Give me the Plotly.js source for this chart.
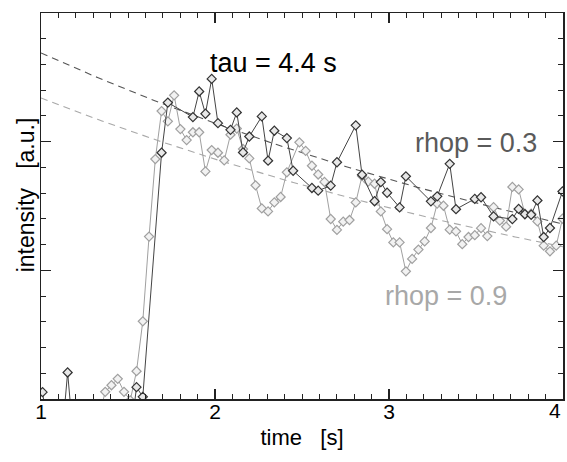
<!DOCTYPE html>
<html><head><meta charset="utf-8">
<script src="https://cdn.plot.ly/plotly-3.0.1.min.js"></script>
<style>html,body{margin:0;padding:0;background:#fff;}#chart{width:567px;height:462px;}</style>
</head><body><div id="chart"></div>
<script>
// rhop = 0.3 (dark): sample times [s] and intensity [a.u.]
const time03 = [1.009,1.045,1.117,1.153,1.189,1.513,1.549,1.585,1.693,1.729,
1.873,1.909,1.945,1.981,2.017,2.089,2.125,2.161,2.197,2.269,
2.305,2.341,2.413,2.449,2.557,2.593,2.665,2.701,2.809,2.845,
2.917,2.953,2.989,3.061,3.097,3.241,3.277,3.349,3.385,3.493,
3.529,3.601,3.709,3.745,3.781,3.817,3.853,3.889,3.925,3.997];
const rhop03 = [0.053,-0.3,-0.35,0.206,-0.35,-0.3,0.092,0.017,1.914,2.304,
2.191,2.390,2.217,2.488,2.144,2.092,2.227,1.916,2.040,2.196,
1.852,2.085,2.028,1.774,1.640,1.619,1.658,1.840,2.127,1.743,
1.537,1.686,1.603,1.489,1.731,1.536,1.575,1.828,1.475,1.555,
1.568,1.419,1.398,1.477,1.436,1.432,1.543,1.259,1.329,1.613];

// rhop = 0.9 (light): sample times [s] and intensity [a.u.]
const time09 = [1.333,1.369,1.405,1.441,1.477,1.513,1.549,1.585,1.621,1.657,
1.693,1.729,1.765,1.801,1.837,1.873,1.909,1.945,1.981,2.017,
2.053,2.089,2.125,2.161,2.197,2.233,2.269,2.305,2.341,2.377,
2.413,2.485,2.521,2.557,2.593,2.629,2.665,2.701,2.737,2.773,
2.809,2.845,2.881,2.917,2.953,2.989,3.025,3.061,3.097,3.133,
3.169,3.205,3.241,3.277,3.313,3.349,3.385,3.421,3.457,3.493,
3.529,3.565,3.601,3.637,3.673,3.709,3.745,3.781,3.817,3.853,
3.889,3.925,3.961,3.997];
const rhop09 = [-0.14,0.056,0.107,0.157,0.056,-0.01,0.216,0.604,1.262,1.865,
2.238,2.158,2.360,2.098,2.012,2.073,2.073,1.769,1.935,1.914,
1.854,2.054,2.102,1.943,1.870,1.661,1.481,1.458,1.528,1.570,
1.762,1.995,1.928,1.813,1.745,1.687,1.399,1.314,1.378,1.391,
1.528,1.733,1.689,1.673,1.458,1.320,1.217,1.217,0.992,1.089,
1.161,1.225,1.329,1.518,1.502,1.316,1.303,1.203,1.259,1.273,
1.328,1.266,1.491,1.387,1.339,1.648,1.629,1.440,1.440,1.380,
1.192,1.148,1.192,1.401];

// exponential fit parameters: I = A * exp(-(t - 1)/tau)
const tau = 4.4;
const fitAmp03 = 2.69;
const fitAmp09 = 2.34;
const xTickVals = [1, 2, 3, 4];
const xTickText = ['1', '2', '3', '4'];

const fitT = [];
for (let i = 0; i <= 120; i++) fitT.push(1 + 3 * i / 120);
const fit03 = fitT.map(t => fitAmp03 * Math.exp(-(t - 1) / tau));
const fit09 = fitT.map(t => fitAmp09 * Math.exp(-(t - 1) / tau));

const FONT = 'Liberation Sans, Arial, Helvetica, sans-serif';

const traces = [
  {x: fitT, y: fit09, mode: 'lines', line: {color: '#a8a8a8', width: 1.1, dash: '7px,5px'}, hoverinfo: 'skip'},
  {x: fitT, y: fit03, mode: 'lines', line: {color: '#555555', width: 1.1, dash: '7px,5px'}, hoverinfo: 'skip'},
  {x: time09, y: rhop09, mode: 'lines+markers', line: {color: '#a0a0a0', width: 1},
   marker: {symbol: 'diamond', size: 7, color: '#f2f2f2', line: {color: '#a0a0a0', width: 1.2}}},
  {x: time03, y: rhop03, mode: 'lines+markers', line: {color: '#444444', width: 1},
   marker: {symbol: 'diamond', size: 7, color: '#e8e8e8', line: {color: '#333333', width: 1.2}}}
];

// the last tick label (4) sits at the right edge of the figure; it is drawn
// as an annotation right-aligned on its tick so that it stays inside the page
const shownTickText = xTickText.map((s, i) => i === xTickText.length - 1 ? '' : s);

const layout = {
  width: 567, height: 462,
  margin: {l: 40.5, r: 3.5, t: 13, b: 62.5},
  paper_bgcolor: '#ffffff', plot_bgcolor: '#ffffff',
  showlegend: false,
  font: {family: FONT, color: '#000'},
  xaxis: {
    range: [1, 4], tickvals: xTickVals, ticktext: shownTickText,
    ticks: 'inside', ticklen: 10, tickwidth: 1.2, tickcolor: '#222',
    showline: true, linecolor: '#222', linewidth: 1.5, mirror: 'ticks',
    showgrid: false, zeroline: false,
    ticklabelstandoff: -7,
    tickfont: {size: 21, family: FONT, color: '#000'},
    minor: {dtick: 0.1, ticks: 'inside', ticklen: 5, tickwidth: 1, tickcolor: '#222', showgrid: false},
    title: {text: 'time\u00A0\u00A0\u00A0[s]', font: {size: 22, family: FONT, color: '#000'}, standoff: 8}
  },
  yaxis: {
    range: [0, 3], dtick: 1, showticklabels: false,
    ticks: 'inside', ticklen: 10, tickwidth: 1.2, tickcolor: '#222',
    showline: true, linecolor: '#222', linewidth: 1.5, mirror: 'ticks',
    showgrid: false, zeroline: false,
    minor: {dtick: 0.2, ticks: 'inside', ticklen: 5, tickwidth: 1, tickcolor: '#222', showgrid: false}
  },
  annotations: [
    {xref: 'x', yref: 'paper', x: xTickVals[xTickVals.length - 1], y: -0.03, xanchor: 'right', yanchor: 'middle',
     text: xTickText[xTickText.length - 1], showarrow: false,
     font: {size: 21, family: FONT, color: '#000'}},
    {xref: 'x', yref: 'y', x: 2.334, y: 2.61, text: 'tau = 4.4 s', showarrow: false,
     font: {size: 27, family: FONT, color: '#000'}},
    {xref: 'x', yref: 'y', x: 3.50, y: 1.99, text: 'rhop = 0.3', showarrow: false,
     font: {size: 27, family: FONT, color: '#5a5a5a'}},
    {xref: 'x', yref: 'y', x: 3.325, y: 0.80, text: 'rhop = 0.9', showarrow: false,
     font: {size: 27, family: FONT, color: '#a8a8a8'}},
    {xref: 'paper', yref: 'paper', x: -0.0296, y: 0.529, xanchor: 'center', yanchor: 'middle',
     text: 'intensity\u00A0\u00A0\u00A0[a.u.]', showarrow: false,
     textangle: -90, font: {size: 23, family: FONT, color: '#000'}}
  ]
};

Plotly.newPlot('chart', traces, layout, {displayModeBar: false, staticPlot: true});
</script>
</body></html>
